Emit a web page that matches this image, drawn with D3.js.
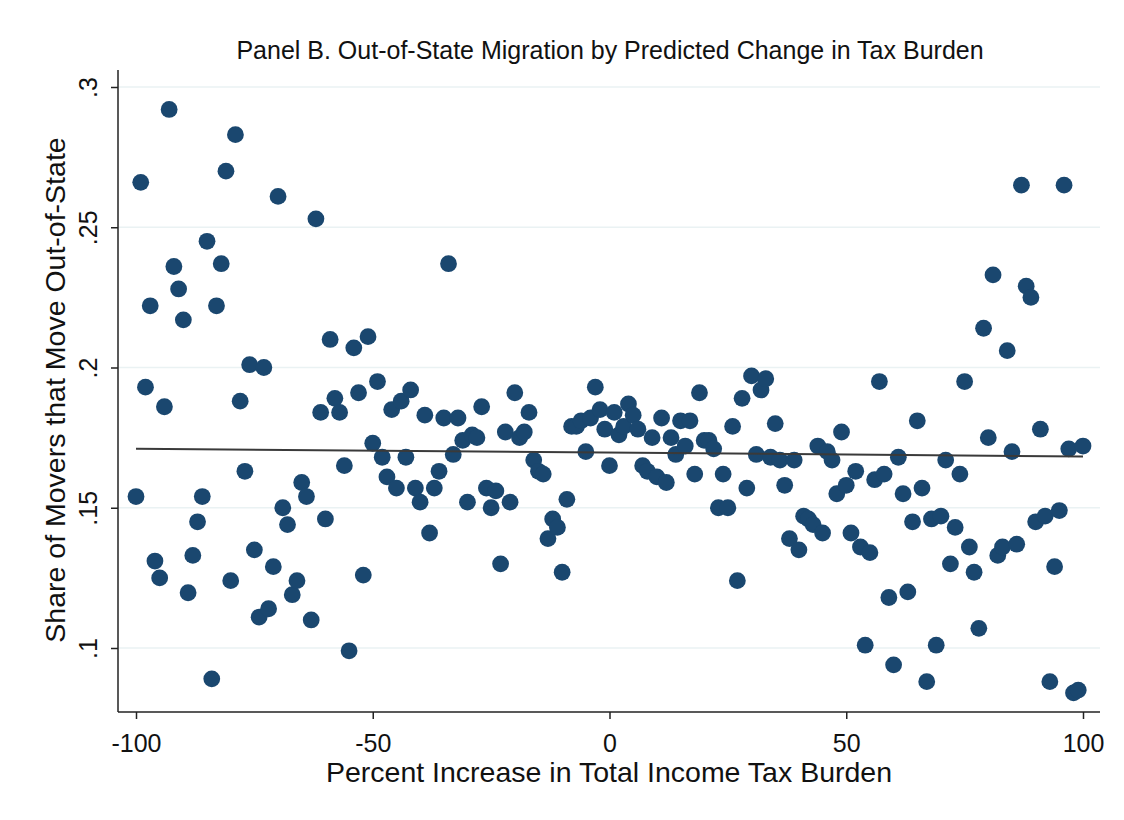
<!DOCTYPE html>
<html><head><meta charset="utf-8">
<script src="https://cdn.jsdelivr.net/npm/d3@7"></script>
<style>body{margin:0;background:#fff}svg{display:block}text{font-family:"Liberation Sans",Arial,sans-serif}</style>
</head><body>
<svg id="c" width="1124" height="820"></svg>
<script>
const xTicks = [-100, -50, 0, 50, 100];
const xTickLabels = ["-100", "-50", "0", "50", "100"];
const yTicks = [0.1, 0.15, 0.2, 0.25, 0.3];
const yTickLabels = [".1", ".15", ".2", ".25", ".3"];
const taxIncrease = d3.range(-100, 101);
const moveShare = [
0.154,0.266,0.193,0.222,0.131,0.125,0.186,0.292,0.236,0.228,
0.217,0.1197,0.133,0.145,0.154,0.245,0.089,0.222,0.237,0.270,
0.124,0.283,0.188,0.163,0.201,0.135,0.111,0.200,0.114,0.129,
0.261,0.150,0.144,0.119,0.124,0.159,0.154,0.110,0.253,0.184,
0.146,0.210,0.189,0.184,0.165,0.099,0.207,0.191,0.126,0.211,
0.173,0.195,0.168,0.161,0.185,0.157,0.188,0.168,0.192,0.157,
0.152,0.183,0.141,0.157,0.163,0.182,0.237,0.169,0.182,0.174,
0.152,0.176,0.175,0.186,0.157,0.150,0.156,0.130,0.177,0.152,
0.191,0.175,0.177,0.184,0.167,0.163,0.162,0.139,0.146,0.143,
0.127,0.153,0.179,0.179,0.181,0.170,0.182,0.193,0.185,0.178,
0.165,0.184,0.176,0.179,0.187,0.183,0.178,0.165,0.163,0.175,
0.161,0.182,0.159,0.175,0.169,0.181,0.172,0.181,0.162,0.191,
0.174,0.174,0.171,0.150,0.162,0.150,0.179,0.124,0.189,0.157,
0.197,0.169,0.192,0.196,0.168,0.180,0.167,0.158,0.139,0.167,
0.135,0.147,0.146,0.144,0.172,0.141,0.170,0.167,0.155,0.177,
0.158,0.141,0.163,0.136,0.101,0.134,0.160,0.195,0.162,0.118,
0.094,0.168,0.155,0.120,0.145,0.181,0.157,0.088,0.146,0.101,
0.147,0.167,0.130,0.143,0.162,0.195,0.136,0.127,0.107,0.214,
0.175,0.233,0.133,0.136,0.206,0.170,0.137,0.265,0.229,0.225,
0.145,0.178,0.147,0.088,0.129,0.149,0.265,0.171,0.084,0.085,
0.172];
const fitX = [-100, 100];
const fitY = [0.1710, 0.1683];

const svg = d3.select("#c");
const x = d3.scaleLinear().domain([-100, 100]).range([136, 1083]);
const y = d3.scaleLinear().domain([0.1, 0.3]).range([648, 87]);
const pLeft = 118, pRight = 1100, pTop = 70, pBottom = 712;

// gridlines
svg.append("g").selectAll("line").data(yTicks).join("line")
  .attr("x1", pLeft).attr("x2", pRight)
  .attr("y1", d => y(d)).attr("y2", d => y(d))
  .attr("stroke", "#eaf2f3").attr("stroke-width", 1.5);

// points
const pts = taxIncrease.map((t, i) => ({x: t, y: moveShare[i]}));
svg.append("g").selectAll("circle").data(pts).join("circle")
  .attr("cx", d => x(d.x)).attr("cy", d => y(d.y)).attr("r", 8.4)
  .attr("fill", "#1a476f");

// fit line
svg.append("line")
  .attr("x1", x(fitX[0])).attr("y1", y(fitY[0]))
  .attr("x2", x(fitX[1])).attr("y2", y(fitY[1]))
  .attr("stroke", "#3a3a3a").attr("stroke-width", 2);

// axes
const xAxis = d3.axisBottom(x).tickValues(xTicks).tickFormat((d, i) => xTickLabels[i]).tickSize(7).tickSizeOuter(0);
const gx = svg.append("g").attr("transform", `translate(0,${pBottom})`).call(xAxis);
gx.select(".domain").remove();
gx.append("line").attr("x1", pLeft).attr("x2", pRight).attr("stroke", "#222").attr("stroke-width", 1.5);
gx.selectAll(".tick line").attr("stroke", "#222").attr("stroke-width", 1.5);
gx.selectAll(".tick text").attr("fill", "#111").style("font-size", "25px").attr("dy", "1.2em");

const yAxis = d3.axisLeft(y).tickValues(yTicks).tickFormat((d, i) => yTickLabels[i]).tickSize(7).tickSizeOuter(0);
const gy = svg.append("g").attr("transform", `translate(${pLeft},0)`).call(yAxis);
gy.select(".domain").remove();
gy.append("line").attr("y1", pTop).attr("y2", pBottom).attr("stroke", "#222").attr("stroke-width", 1.5);
gy.selectAll(".tick line").attr("stroke", "#222").attr("stroke-width", 1.5);
gy.selectAll(".tick text").attr("fill", "#111").style("font-size", "25px")
  .attr("x", null).attr("dy", null)
  .attr("text-anchor", "middle")
  .attr("transform", "translate(-21,0) rotate(-90)");

// titles
svg.append("text").attr("x", 610).attr("y", 59).attr("text-anchor", "middle")
  .style("font-size", "25px").attr("fill", "#111")
  .text("Panel B. Out-of-State Migration by Predicted Change in Tax Burden");
svg.append("text").attr("x", 609).attr("y", 782).attr("text-anchor", "middle")
  .style("font-size", "28.5px").attr("fill", "#111")
  .text("Percent Increase in Total Income Tax Burden");
svg.append("text").attr("transform", "translate(65,390) rotate(-90)").attr("text-anchor", "middle")
  .style("font-size", "28.5px").attr("fill", "#111")
  .text("Share of Movers that Move Out-of-State");
</script>
</body></html>
